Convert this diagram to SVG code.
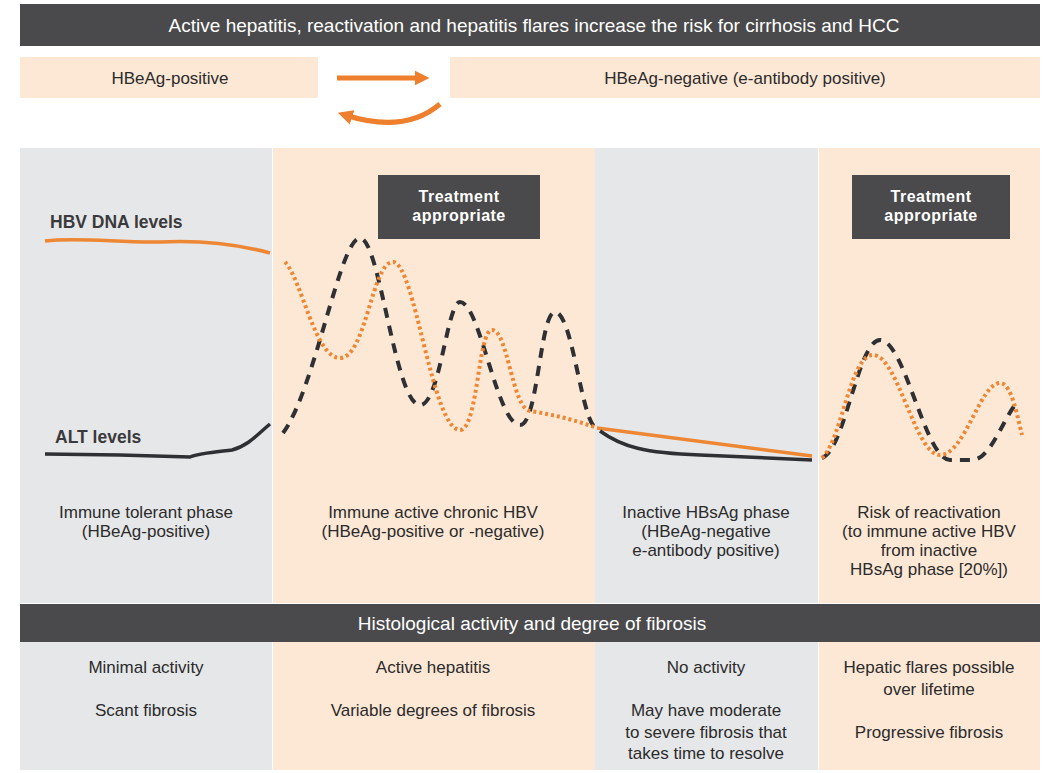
<svg xmlns="http://www.w3.org/2000/svg" width="1048" height="773" viewBox="0 0 1048 773">
<style>
.dark{fill:#4a4a4c}
.gray{fill:#e6e7e9}
.beige{fill:#fde8d6}
.t{font-family:"Liberation Sans",Arial,sans-serif;fill:#2b2b2b;text-anchor:middle;font-size:17px}
.h{font-family:"Liberation Sans",Arial,sans-serif;fill:#ffffff;text-anchor:middle;font-size:19px}
.b{font-family:"Liberation Sans",Arial,sans-serif;fill:#ffffff;text-anchor:middle;font-size:16px;font-weight:bold;letter-spacing:0.5px}
.lbl{font-family:"Liberation Sans",Arial,sans-serif;fill:#3a3a3c;font-size:17.5px;font-weight:bold}
.alt{fill:none;stroke:#2f3033;stroke-width:3.5}
.dna{fill:none;stroke:#ee8733;stroke-width:3.5}
.dash{fill:none;stroke:#2f3033;stroke-width:4;stroke-dasharray:10 8}
.dot{fill:none;stroke:#ee8733;stroke-width:4;stroke-dasharray:3 3}
.arr{fill:none;stroke:#ee7f2d;stroke-width:5}
</style>
<defs>
<marker id="ah" viewBox="0 0 10 10" refX="5" refY="5" markerWidth="3" markerHeight="3.2" orient="auto" markerUnits="strokeWidth">
<path d="M0,0 L10,5 L0,10 z" fill="#ee7f2d"/>
</marker>
</defs>
<rect width="1048" height="773" fill="#ffffff"/>

<g id="header">
<rect class="dark" x="20" y="4" width="1020" height="42"/>
<text class="h" x="534" y="32">Active hepatitis, reactivation and hepatitis flares increase the risk for cirrhosis and HCC</text>
</g>

<g id="hbeag-positive">
<rect class="beige" x="20" y="57" width="298" height="41"/>
<text class="t" x="170" y="84">HBeAg-positive</text>
</g>
<g id="hbeag-negative">
<rect class="beige" x="450" y="57" width="590" height="41"/>
<text class="t" x="745" y="84">HBeAg-negative (e-antibody positive)</text>
</g>

<g id="connectors">
<path class="arr" d="M337,78 L422,78" marker-end="url(#ah)"/>
<path class="arr" d="M440,104 Q405,134 345,115" marker-end="url(#ah)"/>
</g>

<g id="panel">
<rect class="gray" x="20" y="148" width="252" height="455"/>
<rect class="beige" x="273" y="148" width="322" height="455"/>
<rect class="gray" x="595" y="148" width="223" height="455"/>
<rect class="beige" x="819" y="148" width="221" height="455"/>
</g>

<g id="treatment-1">
<rect class="dark" x="378" y="175" width="162" height="64"/>
<text class="b" x="459" y="202">Treatment</text>
<text class="b" x="459" y="221">appropriate</text>
</g>
<g id="treatment-2">
<rect class="dark" x="852" y="175" width="158" height="64"/>
<text class="b" x="931" y="202">Treatment</text>
<text class="b" x="931" y="221">appropriate</text>
</g>

<g id="curves">
<text class="lbl" x="50" y="228">HBV DNA levels</text>
<path class="dna" d="M45,241 C80,237 120,243 160,242 C200,240 240,245 270,253"/>
<text class="lbl" x="55" y="443">ALT levels</text>
<path class="alt" d="M45,454 L120,455 L190,457 C200,453 215,452 232,450 C248,446 258,434 270,424"/>
<path class="dash" d="M283,433 C315,390 340,238 360,238 C380,238 395,405 420,405 C440,405 447,302 460,302 C480,302 497,425 520,425 C538,425 540,312 555,312 C573,312 582,428 597,428"/>
<path class="dot" d="M285,262 C302,280 315,358 340,358 C366,358 372,262 393,262 C415,262 432,430 460,430 C478,430 478,330 492,330 C508,330 512,408 530,411 C555,415 575,420 597,428"/>
<path class="dna" d="M597,428 L812,456"/>
<path class="alt" d="M600,431 C622,447 645,453 700,455 L812,460"/>
<path class="dash" d="M822,458 C845,450 858,340 880,340 C905,340 925,460 950,460 L972,460 C990,460 1003,420 1015,405"/>
<path class="dot" d="M822,458 C842,440 850,355 873,355 C898,355 915,455 940,455 C965,455 980,383 1000,383 C1012,383 1018,420 1022,435"/>
</g>

<g id="phase-1">
<text class="t" x="146" y="518">Immune tolerant phase</text>
<text class="t" x="146" y="537">(HBeAg-positive)</text>
</g>
<g id="phase-2">
<text class="t" x="433" y="518">Immune active chronic HBV</text>
<text class="t" x="433" y="537">(HBeAg-positive or -negative)</text>
</g>
<g id="phase-3">
<text class="t" x="706" y="518">Inactive HBsAg phase</text>
<text class="t" x="706" y="537">(HBeAg-negative</text>
<text class="t" x="706" y="556">e-antibody positive)</text>
</g>
<g id="phase-4">
<text class="t" x="929" y="518">Risk of reactivation</text>
<text class="t" x="929" y="537">(to immune active HBV</text>
<text class="t" x="929" y="556">from inactive</text>
<text class="t" x="929" y="575">HBsAg phase [20%])</text>
</g>

<g id="histology-header">
<rect class="dark" x="20" y="604" width="1020" height="38"/>
<text class="h" x="532" y="630">Histological activity and degree of fibrosis</text>
</g>

<g id="histology">
<rect class="gray" x="20" y="642" width="252" height="128"/>
<rect class="beige" x="273" y="642" width="322" height="128"/>
<rect class="gray" x="595" y="642" width="223" height="128"/>
<rect class="beige" x="819" y="642" width="221" height="128"/>
<text class="t" x="146" y="673">Minimal activity</text>
<text class="t" x="146" y="716">Scant fibrosis</text>
<text class="t" x="433" y="673">Active hepatitis</text>
<text class="t" x="433" y="716">Variable degrees of fibrosis</text>
<text class="t" x="706" y="673">No activity</text>
<text class="t" x="706" y="716">May have moderate</text>
<text class="t" x="706" y="738">to severe fibrosis that</text>
<text class="t" x="706" y="759">takes time to resolve</text>
<text class="t" x="929" y="673">Hepatic flares possible</text>
<text class="t" x="929" y="695">over lifetime</text>
<text class="t" x="929" y="738">Progressive fibrosis</text>
</g>
</svg>
